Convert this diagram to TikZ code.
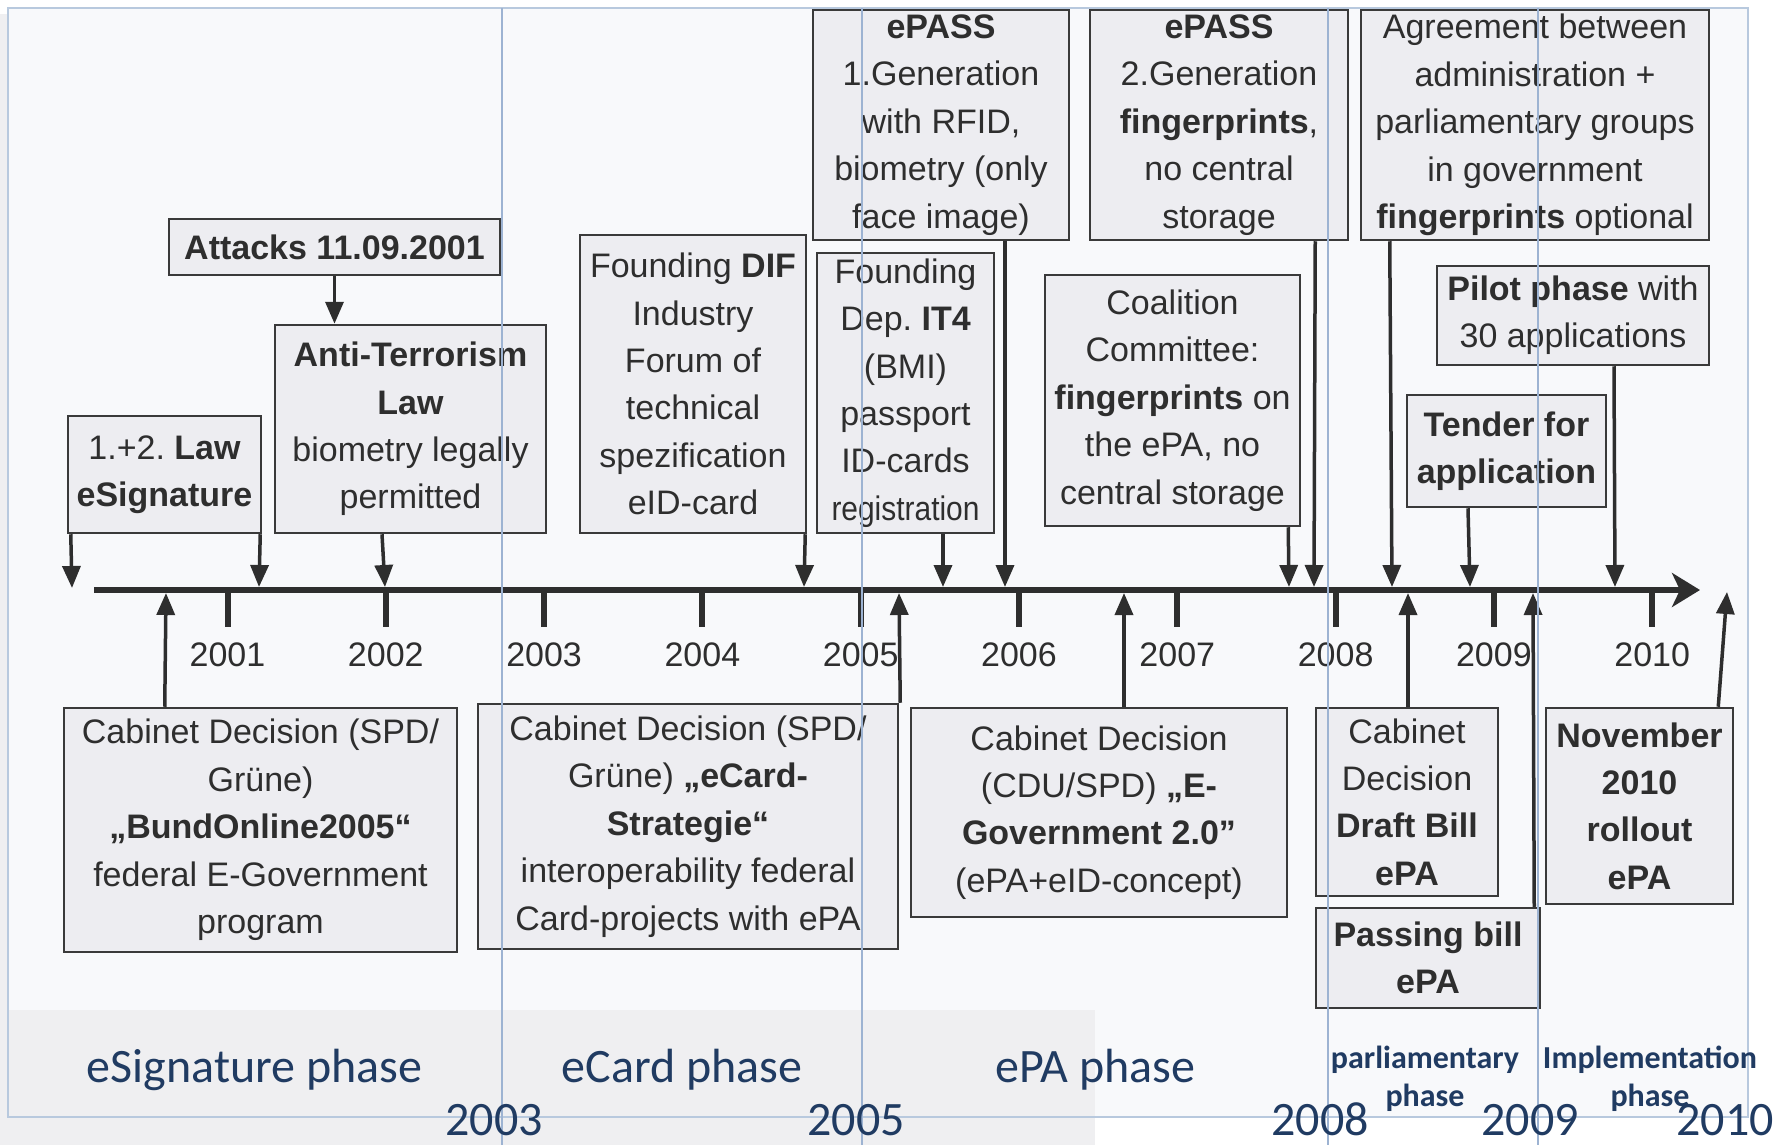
\documentclass[tikz,border=0pt]{standalone}
\usepackage{fontspec}
\setmainfont{Liberation Sans}
\newfontfamily\calibri{Carlito}
\usetikzlibrary{arrows.meta}
\frenchspacing
\definecolor{panelfill}{HTML}{F8F9FB}
\definecolor{panelline}{HTML}{B8C9DE}
\definecolor{vline}{HTML}{9DB3D2}
\definecolor{bandfill}{HTML}{EFEFF1}
\definecolor{boxfill}{HTML}{EDEDF1}
\definecolor{boxline}{HTML}{3A3A3A}
\definecolor{textc}{HTML}{2E2E2E}
\definecolor{linec}{HTML}{2E2E2E}
\definecolor{navy}{HTML}{203B62}
\begin{document}
\begin{tikzpicture}[x=0.5pt,y=-0.5pt,
  box/.style={draw=boxline, fill=boxfill, line width=1.25pt, inner sep=0pt, align=center,
    text=textc, font=\fontsize{17}{23.7}\selectfont},
  conn/.style={draw=linec, line width=1.75pt, -{Triangle[length=11pt,width=9pt]}},
  tickmark/.style={draw=linec, line width=3pt},
  yearlbl/.style={text=textc, font=\fontsize{17}{20}\selectfont, inner sep=0pt},
  phaselbl/.style={text=navy, font=\calibri\fontsize{24}{28}\selectfont, inner sep=0pt, anchor=base},
  phasesmall/.style={text=navy, font=\calibri\bfseries\fontsize{16}{19}\selectfont, inner sep=0pt, anchor=base},
  vsep/.style={draw=vline, line width=0.7pt}
]
\useasboundingbox (0,0) rectangle (1790,1145);
% background
\fill[white] (0,0) rectangle (1790,1145);
\fill[bandfill] (0,14) rectangle (8,1145);
\fill[panelfill] (8,8) rectangle (1748,1117);
\fill[bandfill] (8,1010) rectangle (1095,1145);
\draw[draw=panelline, line width=0.9pt] (8,8) rectangle (1748,1117);

% axis
\coordinate (axL) at (94,590);
\coordinate (axR) at (1700,590);
\draw[draw=linec, line width=3.25pt, -{Stealth[length=14pt,width=17pt,inset=4pt]}] (axL) -- (axR);
\foreach \i/\yr in {0/2001,1/2002,2/2003,3/2004,4/2005,5/2006,6/2007,7/2008,8/2009,9/2010}{
  \draw[tickmark] (227.5+158.3*\i,590) -- (227.5+158.3*\i,627);
  \node[yearlbl] (yr\yr) at (227.5+158.3*\i,655) {\yr};
}

% boxes above
\node[box, minimum width=165.5pt, minimum height=28pt] (att) at (334.5,247) {\textbf{Attacks 11.09.2001}};
\node[box, minimum width=135.5pt, minimum height=104pt] (anti) at (410.5,429) {\textbf{Anti-Terrorism}\\\textbf{Law}\\biometry legally\\permitted};
\node[box, minimum width=96.5pt, minimum height=58.5pt] (law) at (164.5,474.5) {1.+2. \textbf{Law}\\\textbf{eSignature}};
\node[box, minimum width=113pt, minimum height=149pt] (dif) at (693,384) {Founding \textbf{DIF}\\Industry\\Forum of\\technical\\spezification\\eID-card};
\node[box, minimum width=88.5pt, minimum height=140pt] (it4) at (905.5,393) {Founding\\Dep. \textbf{IT4}\\(BMI)\\passport\\ID-cards\\\scalebox{0.88}[1]{registration}};
\node[box, minimum width=128pt, minimum height=115pt] (ep1) at (941,125) {\textbf{ePASS}\\1.Generation\\with RFID,\\biometry (only\\face image)};
\node[box, minimum width=129pt, minimum height=115pt] (ep2) at (1219,125) {\textbf{ePASS}\\2.Generation\\\textbf{fingerprints},\\no central\\storage};
\node[box, minimum width=174pt, minimum height=115pt] (agree) at (1535,125) {Agreement between\\administration +\\parliamentary groups\\in government\\\textbf{fingerprints} optional};
\node[box, minimum width=127.5pt, minimum height=125.5pt] (coal) at (1172.5,400.5) {Coalition\\Committee:\\\textbf{fingerprints} on\\the ePA, no\\central storage};
\node[box, minimum width=136pt, minimum height=49.5pt] (pilot) at (1573,315.5) {\textbf{Pilot phase} with\\30 applications};
\node[box, minimum width=99.5pt, minimum height=56pt] (tender) at (1506.5,451) {\textbf{Tender for}\\\textbf{application}};

% boxes below
\node[box, minimum width=196.5pt, minimum height=122pt] (cab1) at (260.5,830) {Cabinet Decision (SPD/\\Grüne)\\\textbf{„BundOnline2005“}\\federal E-Government\\program};
\node[box, minimum width=210pt, minimum height=122.5pt] (cab2) at (688,826.5) {Cabinet Decision (SPD/\\Grüne) \textbf{„eCard-}\\\textbf{Strategie“}\\interoperability federal\\Card-projects with ePA};
\node[box, minimum width=188pt, minimum height=104.5pt] (cab3) at (1099,812.5) {Cabinet Decision\\(CDU/SPD) \textbf{„E-}\\\textbf{Government 2.0"}\\(ePA+eID-concept)};
\node[box, minimum width=91pt, minimum height=94pt] (cab4) at (1407,802) {Cabinet\\Decision\\\textbf{Draft Bill}\\\textbf{ePA}};
\node[box, minimum width=112pt, minimum height=50pt] (pass) at (1428,958) {\textbf{Passing bill}\\\textbf{ePA}};
\node[box, minimum width=93.5pt, minimum height=98pt] (nov) at (1639.5,806) {\textbf{November}\\\textbf{2010}\\\textbf{rollout}\\\textbf{ePA}};

% axis end points of connectors
\coordinate (e-lawL) at (72,588);
\coordinate (e-lawR) at (259,587);
\coordinate (e-anti) at (385,587);
\coordinate (e-dif) at (804,587);
\coordinate (e-it4) at (943,587);
\coordinate (e-ep1) at (1005,587);
\coordinate (e-coal) at (1289,587);
\coordinate (e-ep2) at (1314,587);
\coordinate (e-agree) at (1392,587);
\coordinate (e-tender) at (1470,587);
\coordinate (e-pilot) at (1615,587);
\coordinate (e-cab1) at (166,593);
\coordinate (e-cab2) at (899,593);
\coordinate (e-cab3) at (1124,593);
\coordinate (e-cab4) at (1408,593);
\coordinate (e-pass) at (1533,593);
\coordinate (e-nov) at (1727,592);

% connectors
\draw[conn] (att.south) -- ([xshift=-38pt]anti.north);
\draw[conn] ([xshift=2pt]law.south west) -- (e-lawL);
\draw[conn] ([xshift=-1pt]law.south east) -- (e-lawR);
\draw[conn] ([xshift=-14.25pt]anti.south) -- (e-anti);
\draw[conn] ([xshift=-1pt]dif.south east) -- (e-dif);
\draw[conn] ([xshift=18.75pt]it4.south) -- (e-it4);
\draw[conn] ([xshift=32pt]ep1.south) -- (e-ep1);
\draw[conn] ([xshift=-6.5pt]coal.south east) -- (e-coal);
\draw[conn] ([xshift=-17pt]ep2.south east) -- (e-ep2);
\draw[conn] ([xshift=15pt]agree.south west) -- (e-agree);
\draw[conn] ([xshift=-19.25pt]tender.south) -- (e-tender);
\draw[conn] ([xshift=20.5pt]pilot.south) -- (e-pilot);
\draw[conn] ([xshift=51pt]cab1.north west) -- (e-cab1);
\draw[conn] ([xshift=0.5pt]cab2.north east) -- (e-cab2);
\draw[conn] ([xshift=12.5pt]cab3.north) -- (e-cab3);
\draw[conn] ([xshift=0.5pt]cab4.north) -- (e-cab4);
\draw[conn] ([xshift=-3.5pt]pass.north east) -- (e-pass);
\draw[conn] ([xshift=-8pt]nov.north east) -- (e-nov);

% separators
\foreach \xx in {502,862,1328,1538}{
  \draw[vsep] (\xx,8) -- (\xx,1145);
}

% phase labels
\node[phaselbl] (ph1) at (254.5,1082) {eSignature phase};
\node[phaselbl] (ph2) at (682,1082) {eCard phase};
\node[phaselbl] (ph3) at (1095.5,1082) {ePA phase};
\node[phasesmall] (ph4a) at (1425,1068) {parliamentary};
\node[phasesmall] (ph4b) at (1425,1106) {phase};
\node[phasesmall] (ph5a) at (1650,1068) {Implementation};
\node[phasesmall] (ph5b) at (1650,1106) {phase};
\node[phaselbl, text depth=0pt] (b2003) at (494,1135) {2003};
\node[phaselbl, text depth=0pt] (b2005) at (856,1135) {2005};
\node[phaselbl, text depth=0pt] (b2008) at (1320,1135) {2008};
\node[phaselbl, text depth=0pt] (b2009) at (1530,1135) {2009};
\node[phaselbl, text depth=0pt] (b2010) at (1725,1135) {2010};
\end{tikzpicture}
\end{document}
